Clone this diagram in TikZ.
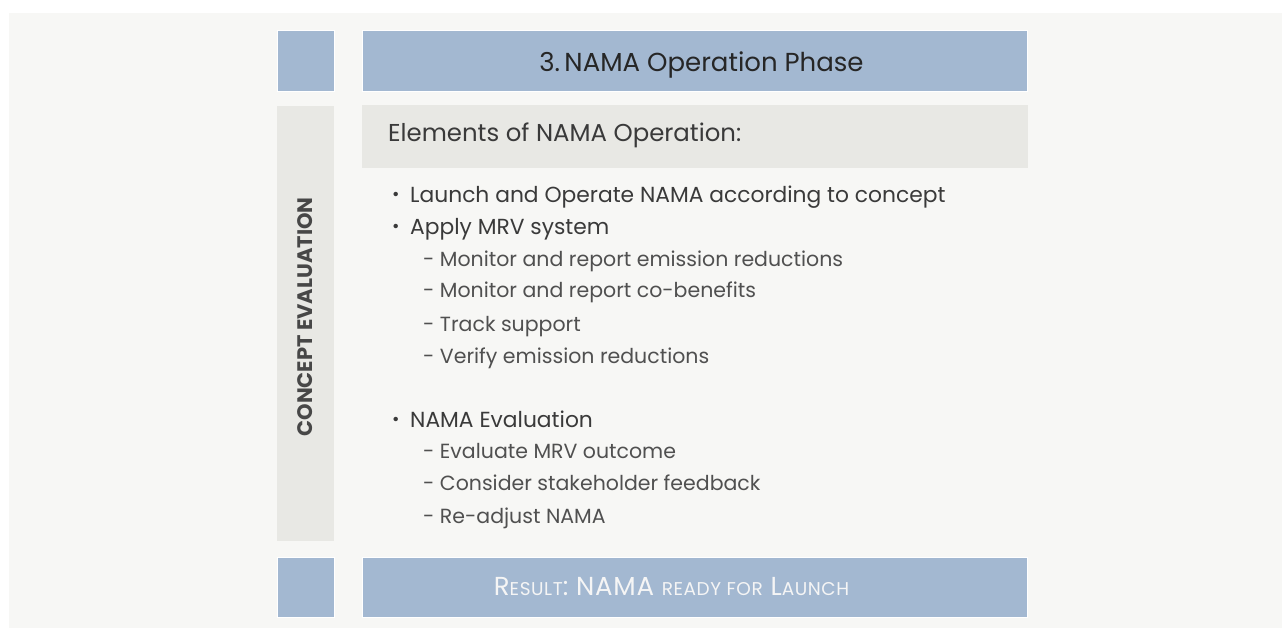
\documentclass[tikz,border=0pt]{standalone}
\usepackage{fontspec}
\setmainfont{Poppins}
\definecolor{bgc}{HTML}{F7F7F5}
\definecolor{bluec}{HTML}{A3B8D1}
\definecolor{grayc}{HTML}{E8E8E4}
\definecolor{maintxt}{HTML}{3A3A3A}
\definecolor{subtxt}{HTML}{505050}
\tikzset{
  blk/.style={fill=bluec, draw=white, line width=0.8pt},
  gbox/.style={fill=grayc, draw=none},
  mainitem/.style={anchor=base west, inner sep=0pt, text=maintxt, font=\fontsize{21.8}{26}\selectfont},
  subitem/.style={anchor=base west, inner sep=0pt, text=subtxt, font=\fontsize{20.5}{24}\selectfont},
  bul/.style={anchor=base west, inner sep=0pt, text=maintxt, font=\fontsize{18}{22}\selectfont},
}
\newcommand{\smc}[1]{{\fontsize{18.5}{22}\selectfont #1}}
\begin{document}
\begin{tikzpicture}[x=1pt,y=-1pt]
\useasboundingbox (0,0) rectangle (1282,628);
\fill[white] (0,0) rectangle (1282,628);
\fill[bgc] (9,13) rectangle (1282,628);
% blocks
\node[blk, minimum width=57pt, minimum height=61pt, anchor=north west, inner sep=0pt] (tl) at (277,30) {};
\node[blk, minimum width=665pt, minimum height=61pt, anchor=north west, inner sep=0pt] (head) at (362,30) {};
\node[anchor=base, inner sep=0pt, text=black!85, font=\fontsize{26}{30}\selectfont] (headtxt) at (701.5,71.5) {3.\,NAMA Operation Phase};
\node[gbox, minimum width=666pt, minimum height=63pt, anchor=north west, inner sep=0pt] (elem) at (362,105) {};
\node[anchor=base west, inner sep=0pt, text=maintxt, font=\fontsize{24.4}{28}\selectfont] (elemtxt) at (388,141.5) {Elements of NAMA Operation:};
\node[gbox, minimum width=57pt, minimum height=435pt, anchor=north west, inner sep=0pt] (col) at (277,106) {};
\node[rotate=90, inner sep=0pt, text=black!72, font=\fontsize{21}{25}\selectfont\bfseries] (coltxt) at (305.5,317) {CONCEPT EVALUATION};
\node[blk, minimum width=57pt, minimum height=60pt, anchor=north west, inner sep=0pt] (bl) at (277,557) {};
\node[blk, minimum width=665pt, minimum height=60pt, anchor=north west, inner sep=0pt] (res) at (362,557) {};
\node[anchor=base, inner sep=0pt, text=white!96!black, font=\fontsize{26}{30}\selectfont\addfontfeatures{LetterSpace=3}] (restxt) at (671.5,595) {R\smc{ESULT}: NAMA \smc{READY FOR} L\smc{AUNCH}};
% bullets
\node[bul] (b1) at (392,201) {\textbullet};
\node[mainitem] (t1) at (410,203) {Launch and Operate NAMA according to concept};
\node[bul] (b2) at (392,233) {\textbullet};
\node[mainitem] (t2) at (410,235) {Apply MRV system};
\node[subitem] (s1) at (423,267) {- Monitor and report emission reductions};
\node[subitem] (s2) at (423,298) {- Monitor and report co-benefits};
\node[subitem] (s3) at (423,331) {- Track support};
\node[subitem] (s4) at (423,363) {- Verify emission reductions};
\node[bul] (b3) at (392,425) {\textbullet};
\node[mainitem] (t3) at (410,427) {NAMA Evaluation};
\node[subitem] (s5) at (423,458) {- Evaluate MRV outcome};
\node[subitem] (s6) at (423,490) {- Consider stakeholder feedback};
\node[subitem] (s7) at (423,523) {- Re-adjust NAMA};
\end{tikzpicture}
\end{document}
